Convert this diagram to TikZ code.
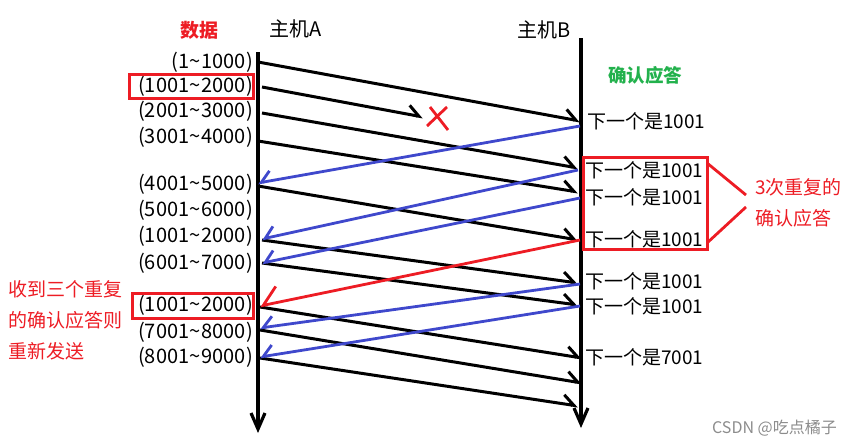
\documentclass[tikz,border=0pt]{standalone}
\usepackage{fontspec}
\setmainfont{Noto Sans CJK SC}
\usetikzlibrary{arrows.meta}
\definecolor{pred}{HTML}{ED1C24}
\definecolor{pgreen}{HTML}{22B14C}
\definecolor{pblue}{HTML}{3F48CC}
\newcommand{\tl}{\kern0.6pt\textasciitilde\kern0.6pt}
\begin{document}
\begin{tikzpicture}[x=1pt,y=-1pt,
  lbl/.style={font=\fontsize{19}{19}\selectfont, inner sep=0pt},
  data/.style={lbl, font=\fontsize{20}{20}\selectfont, anchor=east},
  ack/.style={lbl, anchor=west},
  note/.style={lbl, text=pred, anchor=west},
  host/.style={line width=3.8pt, -{Straight Barb[length=16pt,width=14pt,line width=3.2pt]}},
  snd/.style={line width=3pt, -{Straight Barb[left,length=11pt,width=18pt]}},
  ret/.style={pblue, line width=2.8pt, -{Straight Barb[right,length=10pt,width=20pt]}},
  redbox/.style={draw=pred, line width=3pt, inner sep=0pt},
]
\useasboundingbox (0,0) rectangle (853,447);
% headings
\node[lbl, text=pred, font=\fontsize{19}{19}\selectfont\bfseries] (hdata) at (199,30) {数据};
\node[lbl, font=\fontsize{20}{20}\selectfont, anchor=west] (hA) at (269,29) {主机A};
\node[lbl, font=\fontsize{20}{20}\selectfont, anchor=west] (hB) at (517,30) {主机B};
\node[lbl, text=pgreen, font=\fontsize{18.5}{19}\selectfont\bfseries] (hack) at (645,75) {确认应答};
% host lines
\coordinate (At) at (258,52); \coordinate (Ab) at (258,433);
\coordinate (Bt) at (581,38); \coordinate (Bb) at (581,428);
\draw[host] (At) -- (Ab);
\draw[host] (Bt) -- (Bb);
% data labels
\node[data] (d1) at (253,62) {(1\tl1000)};
\node[data] (d2) at (253,86) {(1001\tl2000)};
\node[data] (d3) at (253,111) {(2001\tl3000)};
\node[data] (d4) at (253,137) {(3001\tl4000)};
\node[data] (d5) at (253,184) {(4001\tl5000)};
\node[data] (d6) at (253,210) {(5001\tl6000)};
\node[data] (d7) at (253,236) {(1001\tl2000)};
\node[data] (d8) at (253,263) {(6001\tl7000)};
\node[data] (d9) at (253,305) {(1001\tl2000)};
\node[data] (d10) at (253,332) {(7001\tl8000)};
\node[data] (d11) at (253,357) {(8001\tl9000)};
\node[redbox, minimum width=124pt, minimum height=24pt] (rb1) at (191,86) {};
\node[redbox, minimum width=121pt, minimum height=25pt] (rb2) at (192.5,305.5) {};
% ack labels
\node[ack] (k1) at (587,121) {下一个是1001};
\node[ack] (k2) at (585,170) {下一个是1001};
\node[ack] (k3) at (585,197) {下一个是1001};
\node[ack] (k4) at (585,239) {下一个是1001};
\node[ack] (k5) at (585,281) {下一个是1001};
\node[ack] (k6) at (585,306) {下一个是1001};
\node[ack] (k7) at (585,357) {下一个是7001};
\node[redbox, minimum width=124pt, minimum height=92pt] (rb3) at (645,203) {};
% side notes
\node[note] (n1) at (755,187) {3次重复的};
\node[note] (n2) at (755,218) {确认应答};
\node[note] (m1) at (8,289) {收到三个重复};
\node[note] (m2) at (8,320) {的确认应答则};
\node[note] (m3) at (8,351) {重新发送};
\coordinate (c1) at (707,163); \coordinate (c2) at (746,195);
\coordinate (c3) at (707,243); \coordinate (c4) at (746,207);
\draw[pred, line width=2.8pt] (c1) -- (c2);
\draw[pred, line width=2.8pt] (c3) -- (c4);
% send points on A and arrival points on B
\coordinate (a1) at (258,62);  \coordinate (b1) at (580,121);
\coordinate (a2) at (262,87);  \coordinate (lost) at (423,117);
\coordinate (a3) at (262,113); \coordinate (b3) at (578,168);
\coordinate (a4) at (258,141); \coordinate (b4) at (578,192);
\coordinate (a5) at (258,186); \coordinate (b5) at (578,240);
\coordinate (a6) at (262,240); \coordinate (b6) at (578,283);
\coordinate (a7) at (262,263); \coordinate (b7) at (578,305);
\coordinate (a8) at (260,307); \coordinate (b8) at (582,358);
\coordinate (a9) at (260,330); \coordinate (b9) at (582,383);
\coordinate (a10) at (260,358); \coordinate (b10) at (578,406);
\foreach \i/\j in {a1/b1,a2/lost,a3/b3,a4/b4,a5/b5,a6/b6,a7/b7,a8/b8,a9/b9,a10/b10}
  \draw[snd] (\i) -- (\j);
% lost mark
\coordinate (x1) at (430,107); \coordinate (x2) at (448,130);
\coordinate (x3) at (447,107); \coordinate (x4) at (427,126);
\draw[pred, line width=2.8pt] (x1) -- (x2);
\draw[pred, line width=2.8pt] (x3) -- (x4);
% acknowledgements
\coordinate (r1) at (580,126); \coordinate (s1) at (258,183);
\coordinate (r2) at (578,170); \coordinate (s2) at (262,239);
\coordinate (r3) at (580,198); \coordinate (s3) at (262,263);
\coordinate (r4) at (580,240); \coordinate (s4) at (260,306);
\coordinate (r5) at (580,284); \coordinate (s5) at (260,328);
\coordinate (r6) at (580,306); \coordinate (s6) at (260,357);
\draw[ret] (r1) -- (s1);
\draw[ret] (r2) -- (s2);
\draw[ret] (r3) -- (s3);
\draw[ret, pred, -{Straight Barb[right,length=16pt,width=32pt]}] (r4) -- (s4);
\draw[ret] (r5) -- (s5);
\draw[ret] (r6) -- (s6);
% watermark
\node[lbl, text=black!45, font=\fontsize{16}{16}\selectfont, anchor=east] (wm) at (837,428) {CSDN @吃点橘子};
\end{tikzpicture}
\end{document}
